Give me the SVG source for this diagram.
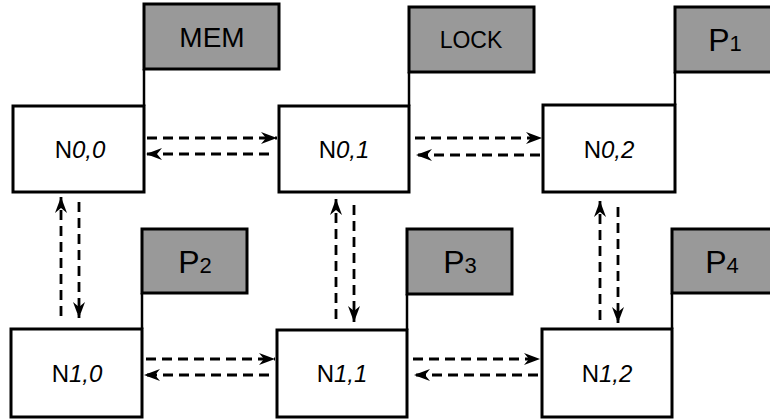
<svg xmlns="http://www.w3.org/2000/svg" width="770" height="420" viewBox="0 0 770 420">
<style>
.node{fill:#fff;stroke:#000;stroke-width:3}
.res{fill:#999;stroke:#000;stroke-width:3}
.link{stroke:#000;stroke-width:2.5;fill:none}
.arr{stroke:#000;stroke-width:2.8;fill:none;stroke-dasharray:10,6;marker-end:url(#ah)}
.lbl{font-family:"Liberation Sans",Arial,sans-serif;font-size:24px;fill:#000;text-anchor:middle}
.big{font-family:"Liberation Sans",Arial,sans-serif;font-size:28px;fill:#000;text-anchor:middle}
.pp{font-family:"Liberation Sans",Arial,sans-serif;font-size:32px;fill:#000;text-anchor:middle}
.lock{font-family:"Liberation Sans",Arial,sans-serif;font-size:23px;fill:#000;text-anchor:middle}
.it{font-style:italic}
.sub{font-size:22px}
</style>
<defs>
<marker id="ah" markerUnits="userSpaceOnUse" markerWidth="17" markerHeight="13" refX="16" refY="6" orient="auto">
<path d="M0,0 L16,6 L0,12 L5,6 z" fill="#000"/>
</marker>
</defs>
<rect width="770" height="420" fill="#fff"/>
<g id="connectors">
<line class="link" x1="144" y1="69" x2="144" y2="106"/>
<line class="link" x1="409" y1="72" x2="409" y2="106"/>
<line class="link" x1="675" y1="72" x2="675" y2="105"/>
<line class="link" x1="142" y1="293" x2="142" y2="329"/>
<line class="link" x1="407" y1="294" x2="407" y2="330"/>
<line class="link" x1="672" y1="293" x2="672" y2="329"/>
<line class="arr" x1="147" y1="138" x2="277" y2="138"/>
<line class="arr" x1="269" y1="154" x2="146" y2="154"/>
<line class="arr" x1="415" y1="138" x2="542" y2="138"/>
<line class="arr" x1="540" y1="155" x2="416" y2="155"/>
<line class="arr" x1="146" y1="359" x2="275" y2="359"/>
<line class="arr" x1="269" y1="375" x2="144" y2="375"/>
<line class="arr" x1="413" y1="359" x2="540" y2="359"/>
<line class="arr" x1="538" y1="375" x2="414" y2="375"/>
<line class="arr" x1="61" y1="316" x2="61" y2="197"/>
<line class="arr" x1="79" y1="202" x2="79" y2="318"/>
<line class="arr" x1="336" y1="319" x2="336" y2="199"/>
<line class="arr" x1="354" y1="205" x2="354" y2="322"/>
<line class="arr" x1="600" y1="320" x2="600" y2="201"/>
<line class="arr" x1="618" y1="207" x2="618" y2="323"/>
</g>
<g id="MEM"><rect class="res" x="144" y="4" width="135" height="65"/><text class="big" x="212" y="47">MEM</text></g>
<g id="LOCK"><rect class="res" x="409" y="7" width="125" height="65"/><text class="lock" x="471" y="48">LOCK</text></g>
<g id="P1"><rect class="res" x="675" y="7" width="110" height="65"/><text class="pp" x="725" y="51">P<tspan class="sub">1</tspan></text></g>
<g id="P2"><rect class="res" x="142" y="229" width="105" height="64"/><text class="pp" x="195" y="273">P<tspan class="sub">2</tspan></text></g>
<g id="P3"><rect class="res" x="407" y="229" width="105" height="65"/><text class="pp" x="460" y="273">P<tspan class="sub">3</tspan></text></g>
<g id="P4"><rect class="res" x="672" y="229" width="110" height="64"/><text class="pp" x="722" y="273">P<tspan class="sub">4</tspan></text></g>
<g id="N00"><rect class="node" x="13" y="106" width="131" height="86"/><text class="lbl" x="80" y="158">N<tspan class="it">0,0</tspan></text></g>
<g id="N01"><rect class="node" x="279" y="106" width="130" height="86"/><text class="lbl" x="344" y="158">N<tspan class="it">0,1</tspan></text></g>
<g id="N02"><rect class="node" x="543" y="105" width="132" height="87"/><text class="lbl" x="609" y="158">N<tspan class="it">0,2</tspan></text></g>
<g id="N10"><rect class="node" x="11" y="329" width="131" height="88"/><text class="lbl" x="77" y="382">N<tspan class="it">1,0</tspan></text></g>
<g id="N11"><rect class="node" x="277" y="330" width="130" height="87"/><text class="lbl" x="342" y="382">N<tspan class="it">1,1</tspan></text></g>
<g id="N12"><rect class="node" x="542" y="329" width="130" height="88"/><text class="lbl" x="607" y="382">N<tspan class="it">1,2</tspan></text></g>
</svg>
